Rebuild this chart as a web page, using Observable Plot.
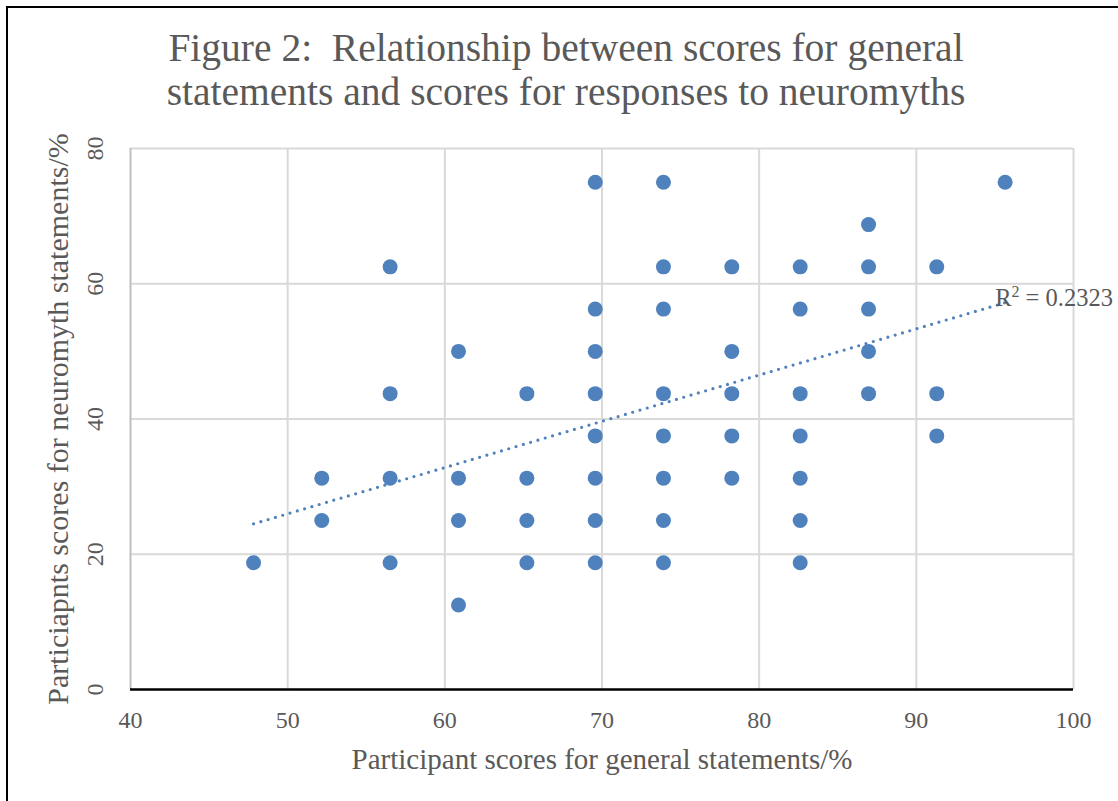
<!DOCTYPE html>
<html>
<head>
<meta charset="utf-8">
<script src="https://cdn.jsdelivr.net/npm/d3@7"></script>
<script src="https://cdn.jsdelivr.net/npm/@observablehq/plot@0.6"></script>
<style>
  html, body { margin: 0; padding: 0; background: #fff; }
  #wrap { position: relative; width: 1118px; height: 801px; overflow: hidden; background: #fff; }
  #frame { position: absolute; left: 6px; top: 6px; width: 1200px; height: 900px; border-left: 2px solid #000; border-top: 2px solid #000; }
  #title { position: absolute; left: 0; top: 26px; width: 1132px; text-align: center;
           font-family: "Liberation Serif", "DejaVu Serif", serif; font-size: 39.5px; line-height: 44px; color: #595959; }
  #chart { position: absolute; left: 0; top: 0; }
</style>
</head>
<body>
<div id="wrap">
  <div id="frame"></div>
  <div id="chart"></div>
  <div id="title">Figure 2:&nbsp; Relationship between scores for general<br>statements and scores for responses to neuromyths</div>
</div>
<script>
// Participant scores (general statements %, neuromyth statements %)
const generalScores = [
  47.83,
  52.17, 52.17,
  56.52, 56.52, 56.52, 56.52,
  60.87, 60.87, 60.87, 60.87,
  65.22, 65.22, 65.22, 65.22,
  69.57, 69.57, 69.57, 69.57, 69.57, 69.57, 69.57, 69.57,
  73.91, 73.91, 73.91, 73.91, 73.91, 73.91, 73.91, 73.91,
  78.26, 78.26, 78.26, 78.26, 78.26,
  82.61, 82.61, 82.61, 82.61, 82.61, 82.61, 82.61,
  86.96, 86.96, 86.96, 86.96, 86.96,
  91.30, 91.30, 91.30,
  95.65
];
const neuromythScores = [
  18.75,
  31.25, 25,
  62.5, 43.75, 31.25, 18.75,
  50, 31.25, 25, 12.5,
  43.75, 31.25, 25, 18.75,
  75, 56.25, 50, 43.75, 37.5, 31.25, 25, 18.75,
  75, 62.5, 56.25, 43.75, 37.5, 31.25, 25, 18.75,
  62.5, 50, 43.75, 37.5, 31.25,
  62.5, 56.25, 43.75, 37.5, 31.25, 25, 18.75,
  68.75, 62.5, 56.25, 50, 43.75,
  62.5, 43.75, 37.5,
  75
];
// Linear trendline endpoints
const trendX = [47.83, 95.65];
const trendY = [24.5, 57.2];
const r2Label = "R\u00B2 = 0.2323";
const xTicks = [40, 50, 60, 70, 80, 90, 100];
const yTicks = [0, 20, 40, 60, 80];

const points = generalScores.map((g, i) => ({g, n: neuromythScores[i]}));
const trend = trendX.map((x, i) => ({x, y: trendY[i]}));

const font = "'Liberation Serif', 'DejaVu Serif', serif";
const textColor = "#595959";

const chart = Plot.plot({
  width: 1118,
  height: 801,
  marginLeft: 130,
  marginRight: 45,
  marginTop: 148,
  marginBottom: 112,
  style: { fontFamily: font, color: textColor, background: "transparent", overflow: "visible" },
  x: { domain: [40, 100] },
  y: { domain: [0, 80] },
  marks: [
    Plot.gridX(xTicks.filter(d => d > 40), { stroke: "#d9d9d9", strokeOpacity: 1, strokeWidth: 2 }),
    Plot.gridY(yTicks.filter(d => d > 0), { stroke: "#d9d9d9", strokeOpacity: 1, strokeWidth: 2 }),
    Plot.ruleX([40], { stroke: "#bfbfbf", strokeWidth: 2 }),
    Plot.ruleY([0], { stroke: "#000", strokeWidth: 2.5 }),
    Plot.axisX(xTicks, { tickSize: 0, tickPadding: 21, fontSize: 24, fill: textColor,
      label: "Participant scores for general statements/%", labelAnchor: "center", labelArrow: "none", labelOffset: 79 }),
    Plot.axisY(yTicks, { tickSize: 0, tickRotate: -90, tickPadding: 28, fontSize: 24, fill: textColor,
      label: "Particiapnts scores for neuromyth statements/%", labelAnchor: "center", labelArrow: "none", labelOffset: 84 }),
    Plot.dot(points, { x: "g", y: "n", r: 7.5, fill: "#4f81bd", stroke: "none" }),
    Plot.line(trend, { x: "x", y: "y", stroke: "#4f81bd", strokeWidth: 3.2, strokeDasharray: "0 7.6", strokeLinecap: "round" }),
    Plot.text([trend[1]], { x: "x", y: "y", text: () => r2Label, textAnchor: "start", dx: -10, dy: -5,
      fontSize: 24.5, fill: textColor })
  ]
});
chart.querySelectorAll("g[aria-label='x-axis label'] text").forEach(t => t.setAttribute("font-size", "29"));
chart.querySelectorAll("g[aria-label='y-axis label'] text").forEach(t => t.setAttribute("font-size", "30"));
// Render the "2" in R² as a true superscript
chart.querySelectorAll("text").forEach(t => {
  if (t.textContent !== r2Label) return;
  const ns = "http://www.w3.org/2000/svg";
  t.textContent = "";
  const a = document.createElementNS(ns, "tspan"); a.textContent = "R";
  const b = document.createElementNS(ns, "tspan"); b.textContent = "2";
  b.setAttribute("font-size", "16"); b.setAttribute("dy", "-9");
  const c = document.createElementNS(ns, "tspan"); c.textContent = " = 0.2323";
  c.setAttribute("dy", "9");
  t.append(a, b, c);
});
document.getElementById("chart").appendChild(chart);
</script>
</body>
</html>
